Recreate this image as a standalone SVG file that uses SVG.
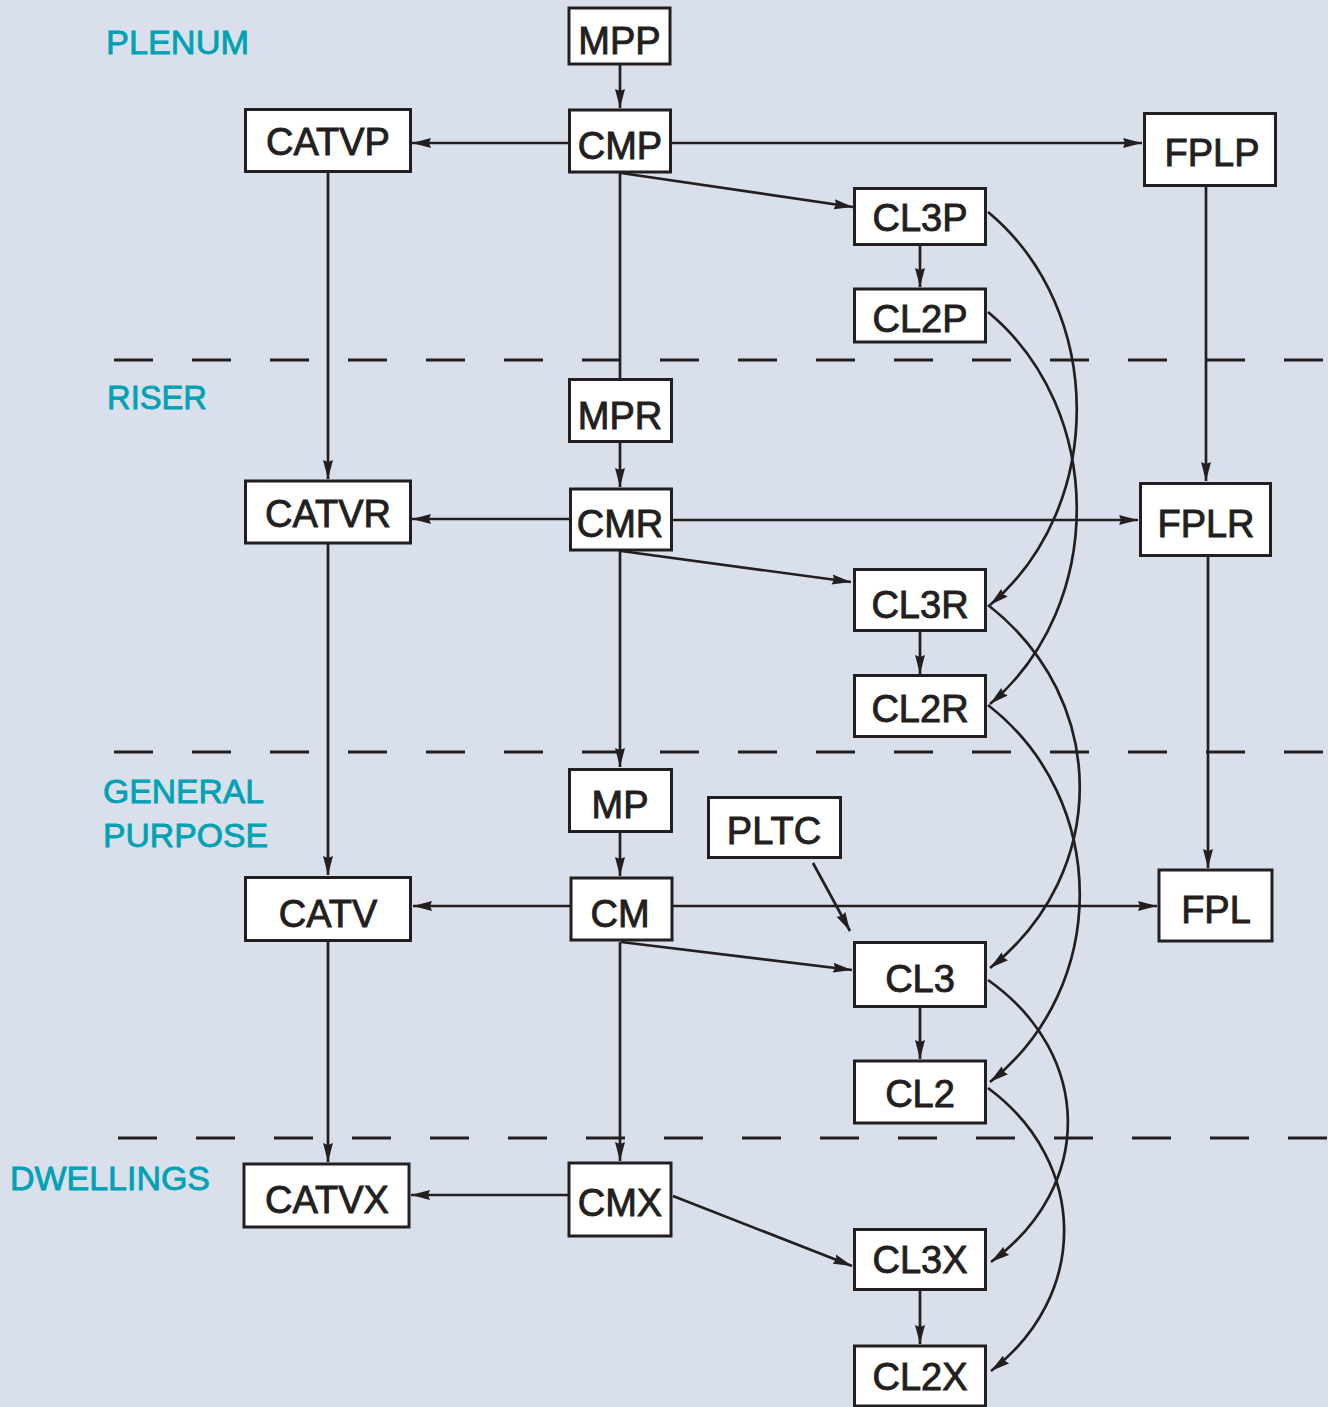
<svg xmlns="http://www.w3.org/2000/svg" width="1328" height="1407" viewBox="0 0 1328 1407">
<defs>
<style>
.bg{fill:#d9e0ec}
.box{fill:#ffffff;stroke:#231f20;stroke-width:3}
.lbl{font-family:"Liberation Sans",Arial,sans-serif;font-size:38px;fill:#231f20;stroke:#231f20;stroke-width:0.9;text-anchor:middle}
.sec{font-family:"Liberation Sans",Arial,sans-serif;font-size:33px;fill:#00a2b3;stroke:#00a2b3;stroke-width:0.8}
.dash{stroke:#231f20;stroke-width:3;stroke-dasharray:39 39;fill:none}
.c{stroke:#231f20;stroke-width:2.7;fill:none}
.a{marker-end:url(#arr)}
</style>
<marker id="arr" markerUnits="userSpaceOnUse" markerWidth="19" markerHeight="11" refX="19" refY="5.5" orient="auto">
<path d="M0,0.5 L19,5.5 L0,10.5 L2,5.5 z" fill="#231f20"/>
</marker>
</defs>
<rect class="bg" x="0" y="0" width="1328" height="1407"/>

<g id="sections">
<line class="dash" x1="114" y1="360" x2="1328" y2="360"/>
<line class="dash" x1="114" y1="752" x2="1328" y2="752"/>
<line class="dash" x1="118" y1="1138" x2="1328" y2="1138"/>
<text class="sec" x="106" y="54" textLength="143" lengthAdjust="spacingAndGlyphs">PLENUM</text>
<text class="sec" x="107" y="409" textLength="100" lengthAdjust="spacingAndGlyphs">RISER</text>
<text class="sec" x="103" y="803" textLength="161" lengthAdjust="spacingAndGlyphs">GENERAL</text>
<text class="sec" x="103" y="847" textLength="165" lengthAdjust="spacingAndGlyphs">PURPOSE</text>
<text class="sec" x="10" y="1190" textLength="200" lengthAdjust="spacingAndGlyphs">DWELLINGS</text>
</g>

<g id="connectors">
<line class="c a" x1="620" y1="64" x2="620" y2="108"/>
<line class="c a" x1="569" y1="143" x2="412" y2="143"/>
<line class="c a" x1="671" y1="143" x2="1142" y2="143"/>
<line class="c a" x1="621" y1="173" x2="853" y2="207"/>
<line class="c" x1="620" y1="173" x2="620" y2="378"/>
<line class="c a" x1="328" y1="172" x2="328" y2="479"/>
<line class="c a" x1="1206" y1="187" x2="1206" y2="481"/>
<line class="c a" x1="920" y1="246" x2="920" y2="287"/>
<path class="c a" d="M988,212 C1106,310 1106,507 990,605"/>
<path class="c a" d="M988,312 C1106,410 1106,606 990,704"/>
<line class="c a" x1="620" y1="443" x2="620" y2="487"/>
<line class="c a" x1="570" y1="519" x2="412" y2="519"/>
<line class="c a" x1="672" y1="520" x2="1138" y2="520"/>
<line class="c a" x1="621" y1="551" x2="851" y2="582"/>
<line class="c a" x1="620" y1="551" x2="620" y2="767"/>
<line class="c a" x1="328" y1="544" x2="328" y2="875"/>
<line class="c a" x1="1208" y1="557" x2="1208" y2="868"/>
<line class="c a" x1="920" y1="632" x2="920" y2="674"/>
<path class="c a" d="M988,605 C1110,700 1110,873 990,968"/>
<path class="c a" d="M988,705 C1110,800 1110,987 990,1082"/>
<line class="c a" x1="620" y1="833" x2="620" y2="876"/>
<line class="c a" x1="813" y1="863" x2="850" y2="931"/>
<line class="c a" x1="570" y1="906" x2="413" y2="906"/>
<line class="c a" x1="673" y1="906" x2="1157" y2="906"/>
<line class="c a" x1="621" y1="942" x2="852" y2="970"/>
<line class="c a" x1="620" y1="942" x2="620" y2="1161"/>
<line class="c a" x1="328" y1="942" x2="328" y2="1162"/>
<line class="c a" x1="920" y1="1007" x2="920" y2="1059"/>
<path class="c a" d="M988,980 C1094,1055 1094,1187 991,1262"/>
<path class="c a" d="M988,1088 C1089,1163 1089,1296 991,1371"/>
<line class="c a" x1="568" y1="1195" x2="411" y2="1195"/>
<line class="c a" x1="673" y1="1196" x2="852" y2="1266"/>
<line class="c a" x1="920" y1="1290" x2="920" y2="1344"/>
</g>

<g id="MPP"><rect class="box" x="569" y="8" width="101" height="56"/><text class="lbl" x="619.5" y="54">MPP</text></g>
<g id="CMP"><rect class="box" x="569.5" y="110" width="101" height="62"/><text class="lbl" x="620" y="159">CMP</text></g>
<g id="CATVP"><rect class="box" x="245.5" y="109.5" width="165" height="62"/><text class="lbl" x="328" y="155">CATVP</text></g>
<g id="FPLP"><rect class="box" x="1144.5" y="113.5" width="131" height="72"/><text class="lbl" x="1212" y="166">FPLP</text></g>
<g id="CL3P"><rect class="box" x="854.5" y="188.5" width="131" height="56"/><text class="lbl" x="920" y="231">CL3P</text></g>
<g id="CL2P"><rect class="box" x="854.5" y="289" width="131" height="53"/><text class="lbl" x="920" y="332">CL2P</text></g>
<g id="MPR"><rect class="box" x="569.5" y="379.5" width="102" height="62"/><text class="lbl" x="620" y="429">MPR</text></g>
<g id="CATVR"><rect class="box" x="245.5" y="481" width="165" height="62"/><text class="lbl" x="328" y="527">CATVR</text></g>
<g id="CMR"><rect class="box" x="570.5" y="489" width="101" height="61"/><text class="lbl" x="620" y="537">CMR</text></g>
<g id="FPLR"><rect class="box" x="1140.5" y="483.5" width="130" height="72"/><text class="lbl" x="1206" y="537">FPLR</text></g>
<g id="CL3R"><rect class="box" x="854.5" y="569.5" width="131" height="61"/><text class="lbl" x="920" y="618">CL3R</text></g>
<g id="CL2R"><rect class="box" x="854.5" y="675.5" width="131" height="61"/><text class="lbl" x="920" y="722">CL2R</text></g>
<g id="MP"><rect class="box" x="569.5" y="769.5" width="102" height="62"/><text class="lbl" x="620" y="818">MP</text></g>
<g id="PLTC"><rect class="box" x="708.5" y="797.5" width="132" height="60"/><text class="lbl" x="774" y="844">PLTC</text></g>
<g id="CATV"><rect class="box" x="245.5" y="877.5" width="165" height="63"/><text class="lbl" x="328" y="927">CATV</text></g>
<g id="CM"><rect class="box" x="571" y="878" width="101" height="62"/><text class="lbl" x="620" y="927">CM</text></g>
<g id="FPL"><rect class="box" x="1159" y="870" width="113" height="71"/><text class="lbl" x="1216" y="923">FPL</text></g>
<g id="CL3"><rect class="box" x="854.5" y="942.5" width="131" height="64"/><text class="lbl" x="920" y="992">CL3</text></g>
<g id="CL2"><rect class="box" x="854.5" y="1061" width="131" height="62"/><text class="lbl" x="920" y="1107">CL2</text></g>
<g id="CATVX"><rect class="box" x="244" y="1164" width="165" height="63"/><text class="lbl" x="327" y="1213">CATVX</text></g>
<g id="CMX"><rect class="box" x="569" y="1163" width="102" height="73"/><text class="lbl" x="620" y="1216">CMX</text></g>
<g id="CL3X"><rect class="box" x="854.5" y="1229.5" width="131" height="60"/><text class="lbl" x="920" y="1273">CL3X</text></g>
<g id="CL2X"><rect class="box" x="854.5" y="1346" width="131" height="60"/><text class="lbl" x="920" y="1390">CL2X</text></g>
</svg>
